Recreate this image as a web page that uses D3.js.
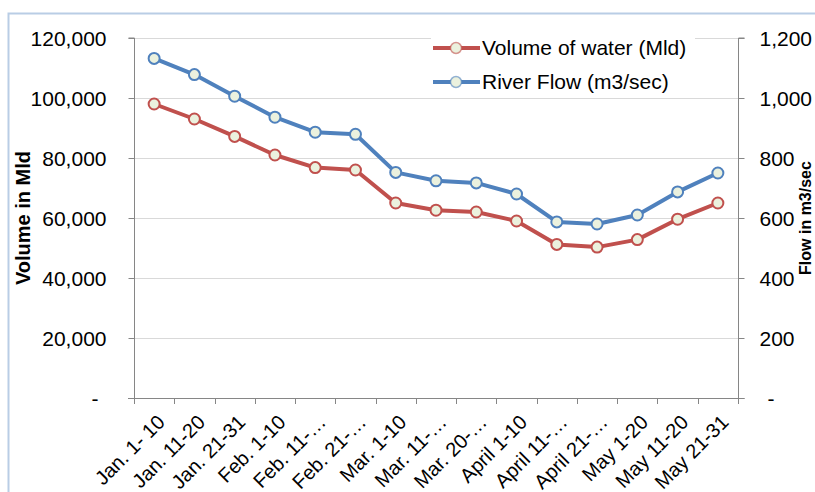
<!DOCTYPE html>
<html>
<head>
<meta charset="utf-8">
<script src="https://cdn.jsdelivr.net/npm/d3@7"></script>
<style>
  body { margin: 0; background: #fff; }
  svg text { font-family: "Liberation Sans", Arial, sans-serif; fill: #000; }
</style>
</head>
<body>
<svg id="chart" width="815" height="492"></svg>
<script>
// data
let categories = ["Jan. 1- 10", "Jan. 11-20", "Jan. 21-31", "Feb. 1-10", "Feb. 11-\u2026", "Feb. 21-\u2026",
                  "Mar. 1-10", "Mar. 11-\u2026", "Mar. 20-\u2026", "April 1-10", "April 11-\u2026", "April 21-\u2026",
                  "May 1-20", "May 11-20", "May 21-31"];
let volumeVals = [98000, 93000, 87200, 81000, 76800, 76000, 65000, 62600, 62000, 59000, 51200, 50300, 52800, 59600, 65000];
let flowVals   = [1132, 1078, 1006, 936, 886, 879, 752, 724, 717, 680, 587, 580, 610, 687, 750];
let leftTicks  = [0, 20000, 40000, 60000, 80000, 100000, 120000];
let rightTicks = [0, 200, 400, 600, 800, 1000, 1200];
let seriesNames = ["Volume of water (Mld)", "River Flow (m3/sec)"];

let redClr  = "#c0504d";
let blueClr = "#4f81bd";
let mrkFill = "#ebf1de";
let fontSz  = "21px";

let svg = d3.select("#chart");

// outer frame of the chart area
svg.append("path")
    .attr("d", "M8.5,492 V13.5 H815")
    .attr("fill", "none")
    .attr("stroke", "#b9cde5")
    .attr("stroke-width", 2);

let pL = 134, pR = 738, pT = 38, pB = 398;

let x = d3.scaleBand().domain(categories).range([pL, pR]);
let yL = d3.scaleLinear().domain([0, 120000]).range([pB, pT]);
let yR = d3.scaleLinear().domain([0, 1200]).range([pB, pT]);

let fmt = d3.format(",");
let lblFmt = (d) => d === 0 ? "-" : fmt(d);

// gridlines
svg.append("g")
    .selectAll("line")
    .data(leftTicks.filter(d => d > 0))
    .enter()
        .append("line")
            .attr("x1", pL).attr("x2", pR)
            .attr("y1", d => yL(d) + 0.5).attr("y2", d => yL(d) + 0.5)
            .attr("stroke", "#d9d9d9")
            .attr("stroke-width", 1);

// left axis
let gL = svg.append("g")
    .attr("transform", "translate(" + (pL + 0.5) + ",0)")
    .call(d3.axisLeft(yL).tickValues(leftTicks).tickFormat(lblFmt).tickSize(6).tickPadding(22));
gL.selectAll("text").style("font-size", fontSz).attr("dy", "0.35em")
    .attr("dx", d => d === 0 ? -8 : 0);

// right axis
let gR = svg.append("g")
    .attr("transform", "translate(" + (pR + 0.5) + ",0)")
    .call(d3.axisRight(yR).tickValues(rightTicks).tickFormat(lblFmt).tickSize(6).tickPadding(15));
gR.selectAll("text").style("font-size", fontSz).attr("dy", "0.35em")
    .attr("dx", d => d === 0 ? 8 : 0);

// bottom axis
let gB = svg.append("g")
    .attr("transform", "translate(0," + (pB + 0.5) + ")")
    .call(d3.axisBottom(x).tickSize(0).tickPadding(0));
gB.selectAll(".tick line").remove();
gB.selectAll("text")
    .style("font-size", "20px")
    .attr("text-anchor", "end")
    .attr("dy", "0.35em")
    .attr("transform", "translate(7,20) rotate(-45)");

// category boundary ticks
svg.append("g")
    .selectAll("line")
    .data(d3.range(categories.length + 1))
    .enter()
        .append("line")
            .attr("x1", i => Math.round(pL + i * x.step()) + 0.5)
            .attr("x2", i => Math.round(pL + i * x.step()) + 0.5)
            .attr("y1", pB).attr("y2", pB + 6)
            .attr("stroke", "#868686");

svg.selectAll(".domain, .tick line").attr("stroke", "#868686");
gL.select(".domain").attr("d", "M-6," + pT + "H0V" + (pB + 0.5) + "H-6");
gR.select(".domain").attr("d", "M6," + pT + "H0V" + (pB + 0.5) + "H6");
gB.select(".domain").attr("d", "M" + (pL - 6) + ",0H" + (pR + 6));

// axis titles
svg.append("text")
    .attr("transform", "translate(30,218) rotate(-90)")
    .attr("text-anchor", "middle")
    .style("font-size", "20px")
    .style("font-weight", "bold")
    .text("Volume in Mld");

svg.append("text")
    .attr("transform", "translate(811,218) rotate(-90)")
    .attr("text-anchor", "middle")
    .style("font-size", "16px")
    .style("font-weight", "bold")
    .text("Flow in m3/sec");

// series
let cx = (d, i) => x(categories[i]) + x.bandwidth() / 2;
let series = [
    { vals: volumeVals, y: yL, clr: redClr },
    { vals: flowVals,   y: yR, clr: blueClr }
];

series.forEach((s) => {
    let line = d3.line().x(cx).y(d => s.y(d));
    svg.append("path")
        .datum(s.vals)
        .attr("d", line)
        .attr("fill", "none")
        .attr("stroke", s.clr)
        .attr("stroke-width", 4)
        .attr("stroke-linejoin", "round");
    svg.append("g")
        .selectAll("circle")
        .data(s.vals)
        .enter()
            .append("circle")
                .attr("cx", cx)
                .attr("cy", d => s.y(d))
                .attr("r", 5.5)
                .attr("fill", mrkFill)
                .attr("stroke", s.clr)
                .attr("stroke-width", 2);
});

// legend
let lg = svg.append("g").attr("transform", "translate(433,48)");
lg.append("rect")
    .attr("x", -2).attr("y", -14).attr("width", 264).attr("height", 54)
    .attr("fill", "#fff");
[redClr, blueClr].forEach((c, i) => {
    let row = lg.append("g").attr("transform", "translate(0," + (i * 34) + ")");
    row.append("line")
        .attr("x1", 0).attr("x2", 47).attr("y1", 0).attr("y2", 0)
        .attr("stroke", c).attr("stroke-width", 4);
    row.append("circle")
        .attr("cx", 23).attr("cy", 0).attr("r", 5.5)
        .attr("fill", mrkFill).attr("stroke", c).attr("stroke-width", 1.5).attr("stroke-opacity", 0.6);
    row.append("text")
        .attr("x", 49).attr("y", 0).attr("dy", "0.35em")
        .style("font-size", fontSz)
        .text(seriesNames[i]);
});
</script>
</body>
</html>
